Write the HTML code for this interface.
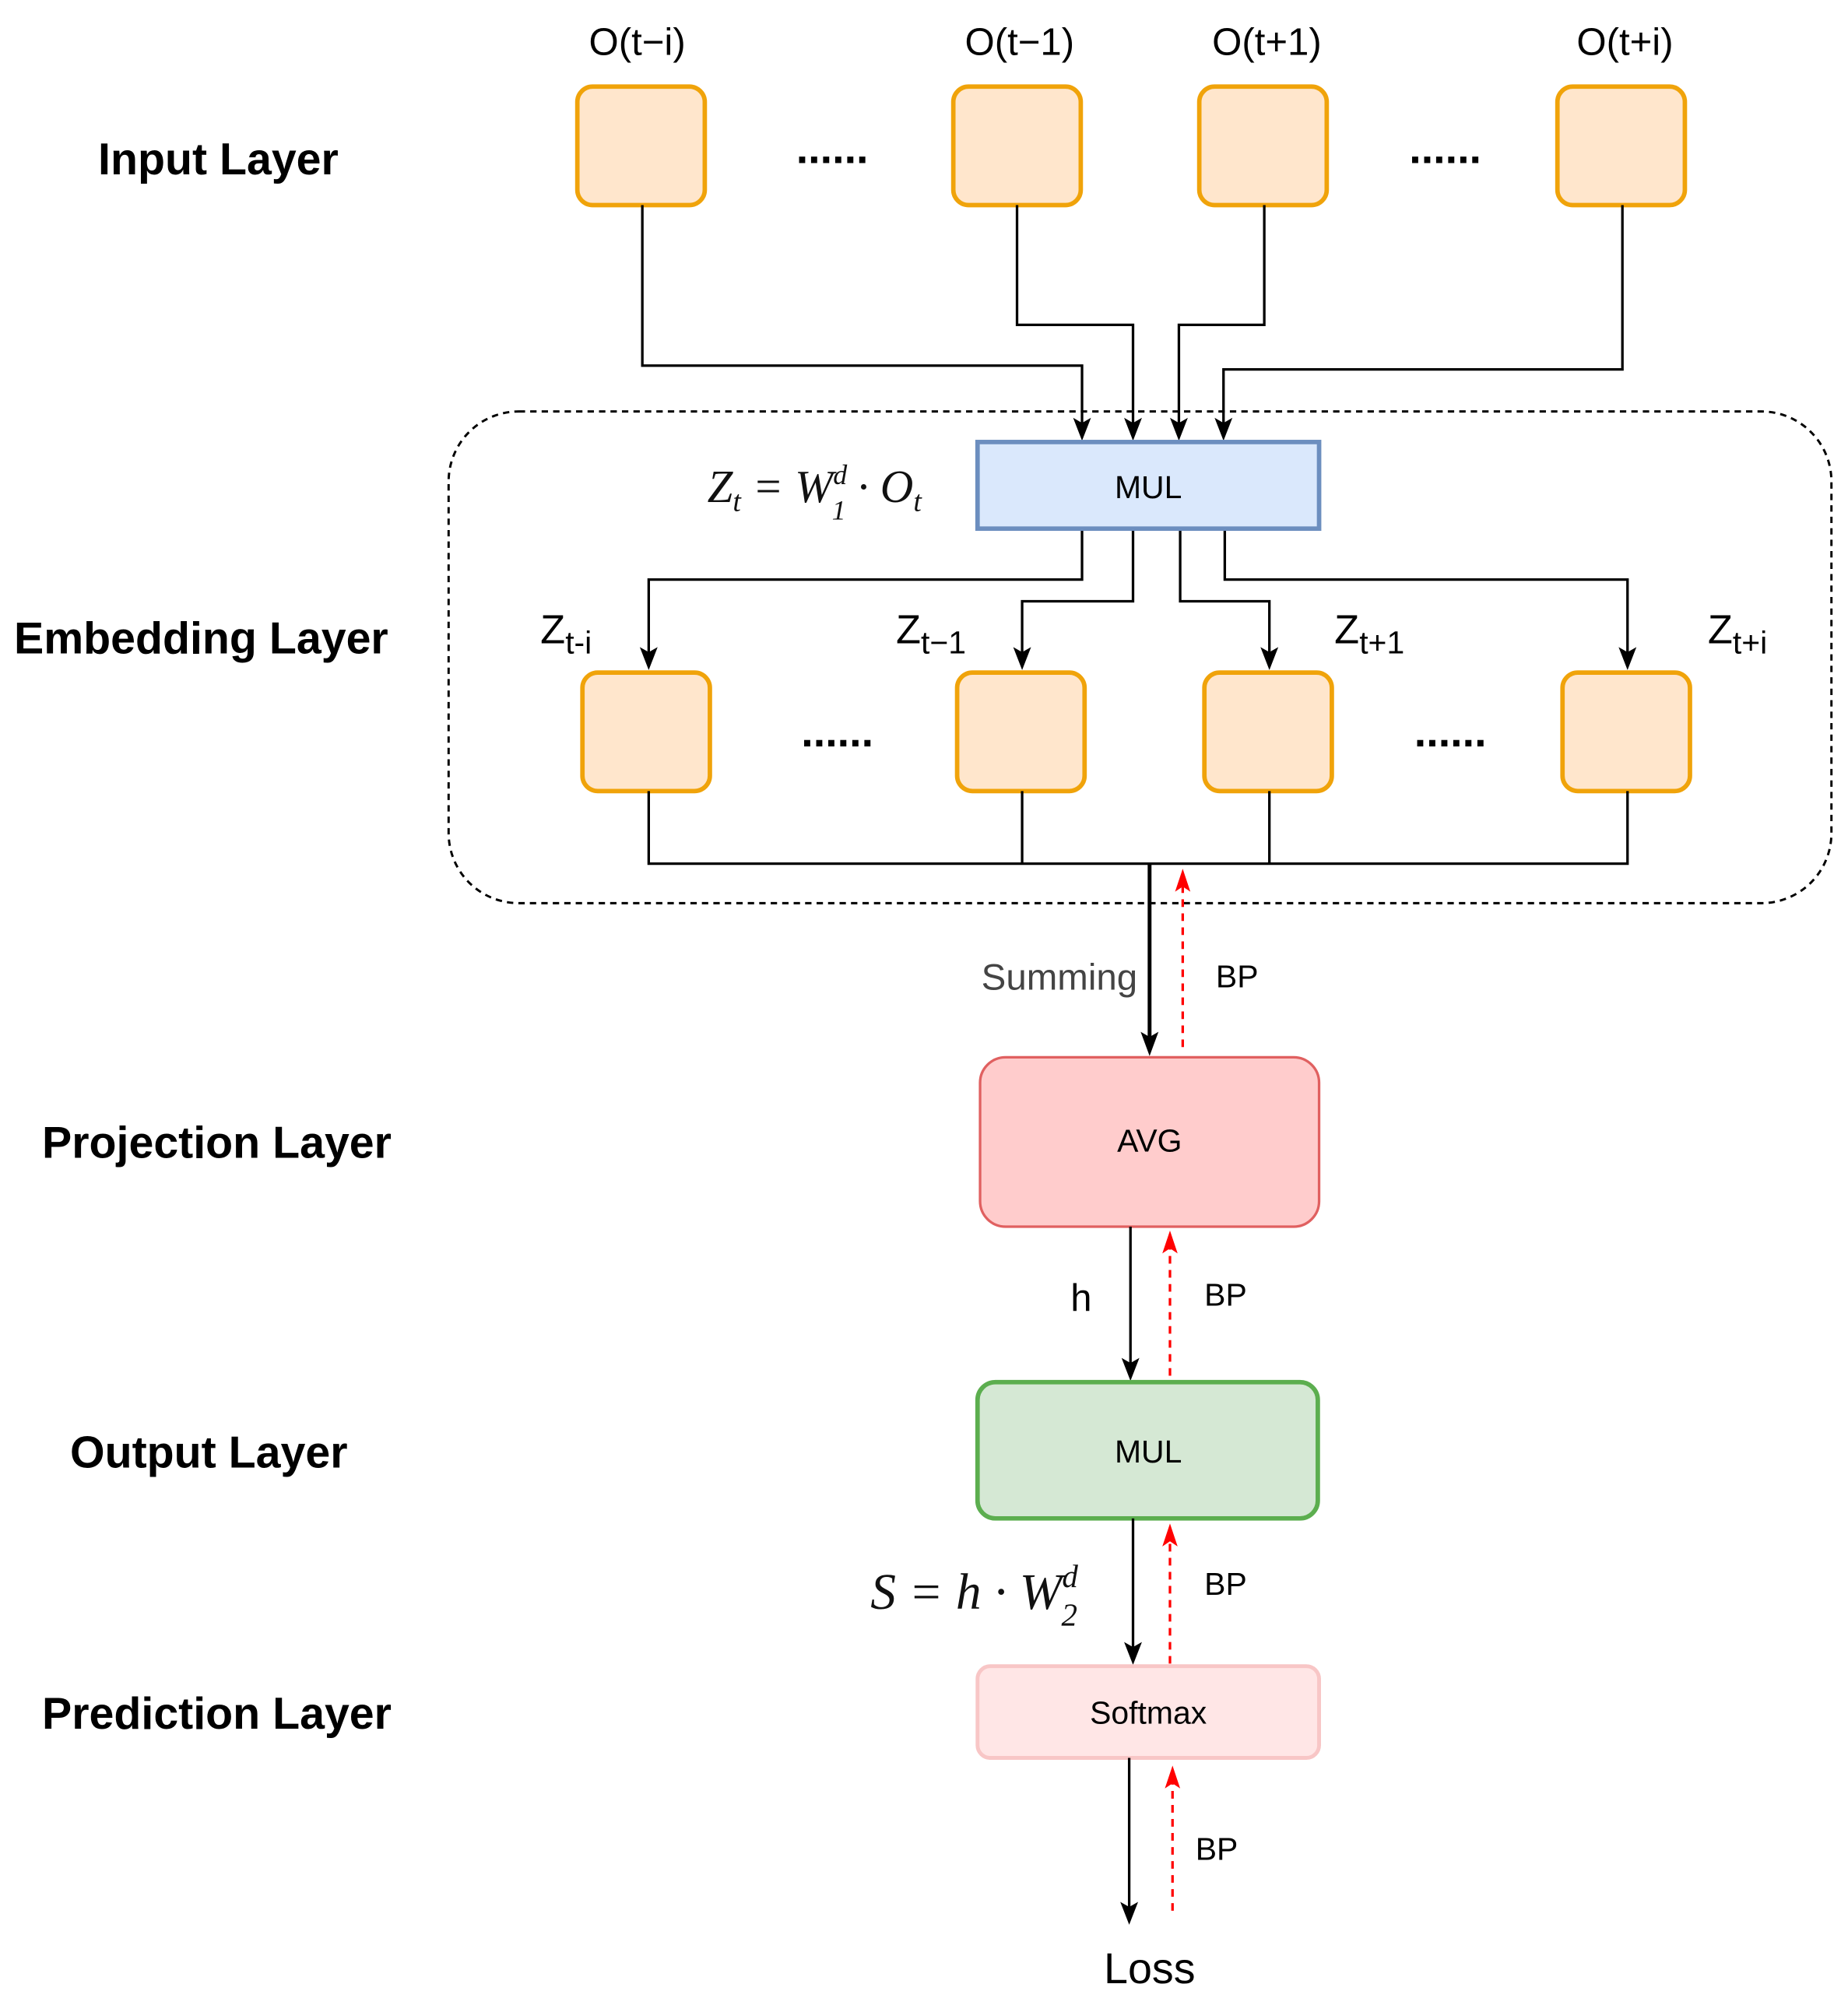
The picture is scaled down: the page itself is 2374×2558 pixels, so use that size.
<!DOCTYPE html>
<html><head><meta charset="utf-8"><style>
html,body{margin:0;padding:0;background:#fff;}
svg{display:block;}
text{font-family:"Liberation Sans",Arial,sans-serif;}
.b{font-weight:bold;font-size:35px;fill:#000;}
.m{font-family:"Liberation Serif",serif;font-style:italic;fill:#111;}
</style></head><body>
<svg width="2374" height="2558" viewBox="0 0 1450 1563" preserveAspectRatio="none" xmlns="http://www.w3.org/2000/svg">
<!-- layer labels -->
<text class="b" x="77" y="137">Input Layer</text>
<text class="b" x="11" y="513">Embedding Layer</text>
<text class="b" x="33" y="909">Projection Layer</text>
<text class="b" x="55" y="1152">Output Layer</text>
<text class="b" x="33" y="1357">Prediction Layer</text>

<g font-size="30" text-anchor="middle" fill="#000">
<text x="500" y="43">O(t−i)</text>
<text x="800" y="43">O(t−1)</text>
<text x="994" y="43">O(t+1)</text>
<text x="1275" y="43">O(t+i)</text>
</g>
<g fill="#ffe6cc" stroke="#f0a30a" stroke-width="3.5">
<rect x="453" y="68" width="100" height="93" rx="12"/>
<rect x="748" y="68" width="100" height="93" rx="12"/>
<rect x="941" y="68" width="100" height="93" rx="12"/>
<rect x="1222" y="68" width="100" height="93" rx="12"/>
<rect x="457" y="528" width="100" height="93" rx="12"/>
<rect x="751" y="528" width="100" height="93" rx="12"/>
<rect x="945" y="528" width="100" height="93" rx="12"/>
<rect x="1226" y="528" width="100" height="93" rx="12"/>
</g>
<g font-size="34" font-weight="bold" text-anchor="middle" fill="#000">
<text x="653" y="128">......</text>
<text x="1134" y="128">......</text>
<text x="657" y="586">......</text>
<text x="1138" y="586">......</text>
</g>

<rect x="352" y="323" width="1085" height="386" rx="55" fill="none" stroke="#000" stroke-width="1.8" stroke-dasharray="5,4"/>

<g fill="none" stroke="#000" stroke-width="2">
<path d="M504 161 V287 H849 V340"/>
<path d="M798 161 V255 H889 V340"/>
<path d="M992 161 V255 H925 V340"/>
<path d="M1273 161 V290 H960 V340"/>
<path d="M849 415 V455 H509 V520"/>
<path d="M889 415 V472 H802 V520"/>
<path d="M926 415 V472 H996 V520"/>
<path d="M961 415 V455 H1277 V520"/>
<path d="M509 621 V678 H1277 V621 M802 621 V678 M996 621 V678"/>
</g>
<g fill="#000">
<polygon points="842,328 849,346 856,328 849,332"/>
<polygon points="882,328 889,346 896,328 889,332"/>
<polygon points="918,328 925,346 932,328 925,332"/>
<polygon points="953,328 960,346 967,328 960,332"/>
<polygon points="502,508 509,526 516,508 509,512"/>
<polygon points="795,508 802,526 809,508 802,512"/>
<polygon points="989,508 996,526 1003,508 996,512"/>
<polygon points="1270,508 1277,526 1284,508 1277,512"/>
<polygon points="895,810 902,829 909,810 902,814"/>
<polygon points="880,1066 887,1084 894,1066 887,1070"/>
<polygon points="882,1289 889,1307 896,1289 889,1293"/>
<polygon points="879,1493 886,1511 893,1493 886,1497"/>
</g>
<g fill="#f00">
<polygon points="922,700 928,682 934,700 928,696"/>
<polygon points="912,984 918,966 924,984 918,980"/>
<polygon points="912,1214 918,1196 924,1214 918,1210"/>
<polygon points="914,1404 920,1386 926,1404 920,1400"/>
</g>

<rect x="767" y="347" width="268" height="68" fill="#dae8fc" stroke="#6c8ebf" stroke-width="3.5"/>
<text x="901" y="391" font-size="25" text-anchor="middle">MUL</text>
<text class="m" x="555" y="394" font-size="36">Z<tspan font-size="23" dy="7">t</tspan><tspan dy="-7"> = W</tspan><tspan font-size="22" dy="-14">d</tspan><tspan font-size="22" dx="-12" dy="28">1</tspan><tspan dy="-14"> · O</tspan><tspan font-size="23" dy="7">t</tspan></text>

<g font-size="32" fill="#000">
<text x="424" y="505">Z<tspan font-size="25" dy="8">t-i</tspan></text>
<text x="703" y="505">Z<tspan font-size="25" dy="8">t−1</tspan></text>
<text x="1047" y="505">Z<tspan font-size="25" dy="8">t+1</tspan></text>
<text x="1340" y="505">Z<tspan font-size="25" dy="8">t+i</tspan></text>
</g>

<path d="M902 678 V814" stroke="#000" stroke-width="3" fill="none"/>
<path d="M928 822 V696" stroke="#f00" stroke-width="2" stroke-dasharray="6,5" fill="none"/>
<text x="770" y="777" font-size="29" fill="#444">Summing</text>
<text x="954" y="775" font-size="25">BP</text>

<rect x="769" y="830" width="266" height="133" rx="20" fill="#ffcccc" stroke="#e06060" stroke-width="2"/>
<text x="902" y="904" font-size="25" text-anchor="middle">AVG</text>

<path d="M887 963 V1070" stroke="#000" stroke-width="2" fill="none"/>
<path d="M918 1080 V980" stroke="#f00" stroke-width="2" stroke-dasharray="6,5" fill="none"/>
<text x="840" y="1029" font-size="30">h</text>
<text x="945" y="1025" font-size="25">BP</text>

<rect x="767" y="1085" width="267" height="107" rx="14" fill="#d5e8d4" stroke="#5cae4f" stroke-width="3.5"/>
<text x="901" y="1148" font-size="25" text-anchor="middle">MUL</text>

<path d="M889 1192 V1293" stroke="#000" stroke-width="2" fill="none"/>
<path d="M918 1306 V1210" stroke="#f00" stroke-width="2" stroke-dasharray="6,5" fill="none"/>
<text class="m" x="683" y="1263" font-size="40">S = h · W<tspan font-size="25" dy="-17">d</tspan><tspan font-size="25" dx="-13" dy="30">2</tspan></text>
<text x="945" y="1252" font-size="25">BP</text>

<rect x="767" y="1308" width="268" height="72" rx="10" fill="#ffe6e6" stroke="#f8c6c6" stroke-width="3"/>
<text x="901" y="1353" font-size="25" text-anchor="middle">Softmax</text>

<path d="M886 1380 V1497" stroke="#000" stroke-width="2" fill="none"/>
<path d="M920 1500 V1400" stroke="#f00" stroke-width="2" stroke-dasharray="6,5" fill="none"/>
<text x="938" y="1460" font-size="25">BP</text>
<text x="902" y="1557" font-size="34" text-anchor="middle">Loss</text>
</svg>
</body></html>
